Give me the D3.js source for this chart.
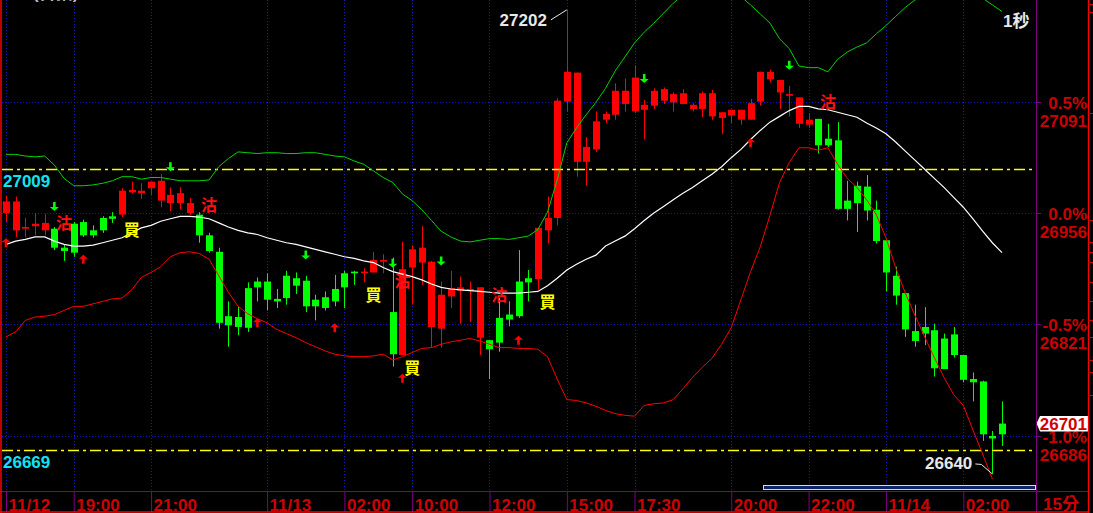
<!DOCTYPE html>
<html>
<head>
<meta charset="utf-8">
<script src="https://cdn.jsdelivr.net/npm/d3@7"></script>
<style>
body { margin: 0; background: #000; }
svg { display: block; }
text { font-family: "Liberation Sans", Arial, "Noto Sans CJK TC", sans-serif; font-weight: bold; }
</style>
</head>
<body>
<svg id="chart" width="1093" height="513"></svg>
<script>
// 15 minute bars, 104 of them
var opens = [26956,26935,26937,26940,26935,26937,26914,26943,26945,26935,26950,26952,26954,26981,26980,26986,26971,26968,26968,26956,
  26954,26929,26909,26831,26830,26865,26873,26873,26852,26880,26877,26874,26851,26854,26864,26883,26885,26884,26884,26897,
  26836,26784,26890,26896,26818,26816,26855,26862,26862,26805,26802,26829,26833,26873,26877,26876,26935,26950,27091,27018,
  27018,27033,27069,27075,27088,27079,27081,27086,27092,27090,27088,27082,27082,27073,27071,27074,27069,27069,27091,27118,
  27102,27098,27064,27063,27070,27046,27044,26971,26989,26988,26960,26923,26880,26859,26813,26818,26814,26804,26809,26784,
  26755,26752,26686,26701];
var highs = [26977,26976,26950,26956,26955,26939,26917,26945,26948,26941,26952,26957,26986,26994,26992,26994,27003,26987,26987,26974,
  26957,26932,26914,26849,26843,26872,26878,26883,26864,26886,26884,26880,26857,26861,26881,26886,26886,26889,26909,26906,
  26902,26921,26917,26940,26898,26873,26886,26879,26873,26866,26802,26853,26849,26911,26887,26938,26976,27095,27202,27126,
  27048,27079,27079,27113,27119,27135,27093,27107,27108,27102,27106,27089,27103,27105,27078,27081,27081,27094,27127,27130,
  27117,27110,27096,27077,27070,27064,27066,26995,26994,27002,26971,26923,26891,26859,26845,26842,26822,26810,26818,26784,
  26763,26753,26692,26728];
var lows = [26945,26927,26927,26929,26929,26911,26898,26903,26927,26926,26932,26944,26951,26980,26973,26978,26963,26958,26960,26954,
  26920,26908,26816,26794,26808,26812,26849,26838,26841,26845,26858,26836,26826,26838,26843,26841,26869,26872,26884,26883,
  26770,26784,26845,26869,26793,26793,26841,26822,26824,26784,26755,26788,26819,26829,26849,26863,26919,26941,27079,27000,
  26989,27030,27065,27069,27079,27077,27045,27082,27088,27079,27088,27079,27072,27069,27052,27065,27063,27069,27086,27114,
  27082,27073,27059,27059,27028,27036,26960,26947,26933,26947,26919,26861,26845,26806,26794,26796,26758,26767,26781,26751,
  26728,26680,26640,26674];
var closes = [26970,26970,26939,26943,26944,26914,26910,26908,26929,26929,26935,26949,26983,26984,26983,26994,26995,26978,26980,26968,
  26929,26910,26823,26820,26818,26817,26866,26851,26849,26853,26868,26843,26843,26841,26849,26866,26883,26885,26899,26899,
  26785,26888,26912,26914,26897,26857,26865,26866,26864,26866,26791,26799,26827,26831,26872,26938,26950,27092,27127,27126,
  27036,27067,27076,27104,27104,27120,27087,27104,27106,27100,27101,27087,27101,27101,27078,27081,27081,27089,27127,27127,
  27117,27100,27096,27069,27038,27038,26961,26961,26968,26959,26922,26884,26856,26815,26801,26810,26768,26767,26784,26754,
  26751,26688,26683,26688];

// bollinger bands
var bbUpper = [27027,27027,27025,27024,27025,27014,26998,26989,26989,26990,26992,26995,27000,27000,26997,26999,26999,26997,26995,26995,
  26995,26996,27012,27022,27030,27029,27028,27029,27029,27028,27028,27029,27029,27027,27025,27024,27019,27015,27007,26999,
  26993,26979,26971,26960,26947,26934,26927,26922,26921,26923,26925,26925,26924,26926,26928,26936,26957,26996,27041,27059,
  27075,27090,27107,27128,27145,27162,27175,27186,27198,27210,27220,27227,27233,27236,27233,27227,27218,27208,27197,27186,
  27167,27155,27134,27132,27132,27127,27142,27151,27157,27162,27173,27183,27194,27205,27214,27219,27222,27224,27224,27222,
  27220,27216,27208,27200];
var bbMid = [26918,26922,26924,26927,26927,26922,26918,26916,26916,26917,26920,26923,26926,26932,26938,26941,26946,26949,26952,26952,
  26951,26949,26944,26939,26935,26932,26930,26926,26923,26920,26918,26915,26912,26909,26906,26903,26901,26898,26896,26890,
  26885,26882,26879,26875,26870,26866,26864,26863,26862,26861,26860,26859,26859,26859,26860,26861,26868,26877,26887,26894,
  26900,26905,26916,26922,26928,26937,26947,26956,26964,26972,26980,26987,26995,27003,27012,27023,27033,27045,27056,27066,
  27073,27080,27085,27085,27082,27081,27078,27075,27072,27065,27059,27052,27042,27031,27020,27009,26998,26987,26975,26963,
  26949,26934,26920,26908];
var bbLower = [26806,26812,26826,26830,26831,26833,26838,26843,26843,26846,26849,26852,26853,26863,26878,26884,26891,26903,26908,26909,
  26907,26900,26880,26860,26843,26834,26828,26823,26815,26810,26805,26799,26794,26789,26785,26783,26782,26782,26783,26785,
  26778,26782,26787,26792,26793,26797,26800,26802,26804,26801,26797,26793,26793,26792,26792,26791,26782,26755,26730,26729,
  26726,26722,26717,26713,26711,26710,26723,26725,26726,26730,26743,26757,26769,26780,26797,26817,26851,26885,26915,26953,
  26993,27017,27035,27035,27032,27035,27015,26998,26987,26972,26954,26926,26890,26859,26832,26806,26781,26757,26736,26723,
  26693,26664,26634,null];

var timeIdx = [0, 7, 15, 27, 35, 42, 50, 58, 65, 75, 83, 91, 99];
var timeLabels = ["11/12","19:00","21:00","11/13","02:00","10:00","12:00","15:00","17:30","20:00","22:00","11/14","02:00"];

var basePrice = 26956;
var pctLevels = [0.5, 0, -0.5, -1.0];
var refLines = [27009, 26669];
var lastPrice = 26701;
var highIdx = 58, highPrice = 27202;
var lowIdx = 102, lowPrice = 26640;

// signal marks
var buyArrowIdx = [0, 8, 26, 34, 41, 53, 77];
var buyArrowPrice = [26920, 26900, 26823, 26817, 26756, 26802, 27041];
var sellArrowIdx = [5, 17, 31, 40, 45, 66, 81];
var sellArrowPrice = [26964, 27012, 26905, 26895, 26898, 27119, 27135];
var shortIdx = [6, 21, 41, 51, 85];
var shortPrice = [26944, 26966, 26874, 26857, 27090];
var longIdx = [13, 38, 42, 56];
var longPrice = [26936, 26857, 26768, 26848];

var edgeTicks = [27209, 27200, 27077, 26948, 26921, 26909, 26897, 26873, 26849, 26826, 26806, 26778, 26764, 26736];

var plotL = 2, plotR = 1036, plotB = 491, axisR = 1088;
var svg = d3.select("#chart");

svg.append("rect").attr("width", 1093).attr("height", 513).attr("fill", "#000");

var x = d3.scaleLinear().domain([0, highs.length - 1]).range([6, 1002]);
var y = d3.scaleLinear().domain([basePrice, basePrice * 1.005]).range([213, 101.7]);

svg.append("defs").append("clipPath").attr("id", "plotClip")
  .append("rect").attr("x", plotL).attr("y", 0).attr("width", plotR - plotL).attr("height", plotB);

// dotted grid
var grid = svg.append("g");
grid.selectAll(".hg").data(pctLevels).enter().append("line")
  .attr("x1", plotL).attr("x2", plotR)
  .attr("y1", function(d){ return Math.round(y(basePrice * (1 + d / 100))) + 0.5; })
  .attr("y2", function(d){ return Math.round(y(basePrice * (1 + d / 100))) + 0.5; })
  .attr("stroke", "#1414c8").attr("stroke-dasharray", "1,2");
grid.selectAll(".vg").data(timeIdx).enter().append("line")
  .attr("x1", function(d){ return Math.round(x(d)) + 0.5; })
  .attr("x2", function(d){ return Math.round(x(d)) + 0.5; })
  .attr("y1", 0).attr("y2", plotB)
  .attr("stroke", "#1414c8").attr("stroke-dasharray", "1,2");

// candles
var idx = d3.range(highs.length);
var candles = svg.append("g").attr("clip-path", "url(#plotClip)");
var bar = candles.selectAll("g").data(idx).enter().append("g");
bar.append("rect")
  .attr("x", function(i){ return Math.round(x(i)); })
  .attr("width", 1)
  .attr("y", function(i){ return y(highs[i]); })
  .attr("height", function(i){ return Math.max(1, y(lows[i]) - y(highs[i])); })
  .attr("fill", function(i){ return closes[i] >= opens[i] ? "#ff0000" : "#00ff00"; });
bar.append("rect")
  .attr("x", function(i){ return Math.round(x(i)) - 3; })
  .attr("width", 7)
  .attr("y", function(i){ return y(Math.max(opens[i], closes[i])); })
  .attr("height", function(i){ return Math.max(1.5, Math.abs(y(opens[i]) - y(closes[i]))); })
  .attr("fill", function(i){ return closes[i] >= opens[i] ? "#ff0000" : "#00ff00"; });

// reference lines
svg.append("g").selectAll("line").data(refLines).enter().append("line")
  .attr("x1", plotL).attr("x2", plotR)
  .attr("y1", function(d){ return Math.round(y(d)) + 0.5; })
  .attr("y2", function(d){ return Math.round(y(d)) + 0.5; })
  .attr("stroke", "#ffff00").attr("stroke-width", 1.3).attr("stroke-dasharray", "11,4,3,4");

// bands
var line = d3.line()
  .defined(function(d){ return d != null; })
  .x(function(d, i){ return x(i); })
  .y(function(d){ return y(d); });
var bands = svg.append("g").attr("clip-path", "url(#plotClip)").attr("fill", "none");
bands.append("path").attr("d", line(bbUpper)).attr("stroke", "#00d400").attr("stroke-width", 1);
bands.append("path").attr("d", line(bbMid)).attr("stroke", "#ffffff").attr("stroke-width", 1.2);
bands.append("path").attr("d", line(bbLower)).attr("stroke", "#ff0000").attr("stroke-width", 1);

// arrows
var upArrow = "M-4.5,-0.5L0,-4.5L4.5,-0.5L1.3,-0.5L1.3,4.5L-1.3,4.5L-1.3,-0.5Z";
svg.append("g").selectAll("path").data(buyArrowIdx).enter().append("path")
  .attr("d", upArrow)
  .attr("transform", function(d, i){ return "translate(" + x(d) + "," + y(buyArrowPrice[i]) + ")"; })
  .attr("fill", "#ff0000");
svg.append("g").selectAll("path").data(sellArrowIdx).enter().append("path")
  .attr("d", upArrow)
  .attr("transform", function(d, i){ return "translate(" + x(d) + "," + y(sellArrowPrice[i]) + ") scale(1,-1)"; })
  .attr("fill", "#00ff00");

// 沽 / 買 marks
svg.append("g").selectAll("text").data(shortIdx).enter().append("text")
  .attr("x", function(d){ return x(d); })
  .attr("y", function(d, i){ return y(shortPrice[i]) + 6; })
  .attr("text-anchor", "middle").attr("font-size", 16)
  .style("font-family", "'Noto Sans CJK TC', sans-serif")
  .attr("fill", "#ff1010").text("沽");
svg.append("g").selectAll("text").data(longIdx).enter().append("text")
  .attr("x", function(d){ return x(d); })
  .attr("y", function(d, i){ return y(longPrice[i]) + 6; })
  .attr("text-anchor", "middle").attr("font-size", 16)
  .style("font-family", "'Noto Sans CJK TC', sans-serif")
  .attr("fill", "#ffff00").text("買");

// high / low callouts
var hx = x(highIdx), hy = y(highPrice);
svg.append("polyline")
  .attr("points", [[hx - 16, hy + 10], [hx, hy]].join(" "))
  .attr("fill", "none").attr("stroke", "#e8e8e8");
svg.append("text").attr("x", hx - 20).attr("y", hy + 16.5).attr("text-anchor", "end")
  .attr("font-size", 17).attr("fill", "#e8e8e8").text(highPrice);
var lx = x(lowIdx), ly = y(lowPrice);
svg.append("polyline")
  .attr("points", [[lx - 17, ly - 10], [lx - 11, ly - 9.5], [lx, ly]].join(" "))
  .attr("fill", "none").attr("stroke", "#e8e8e8");
svg.append("text").attr("x", lx - 20).attr("y", ly - 4.5).attr("text-anchor", "end")
  .attr("font-size", 17).attr("fill", "#e8e8e8").text(lowPrice);

svg.selectAll(".ref").data(refLines).enter().append("text")
  .attr("x", 3).attr("y", function(d){ return y(d) + 17.5; })
  .attr("font-size", 17).attr("fill", "#10e4f4").text(function(d){ return d; });

svg.append("text").attr("x", 1003).attr("y", 27).attr("font-size", 17).attr("fill", "#e8e8e8").text("1秒");
svg.append("text").attr("x", 33).attr("y", -1).attr("font-size", 17).attr("fill", "#bbbbbb").text("(台指)");

// scroll bar
svg.append("rect").attr("x", 763.5).attr("y", 485.5).attr("width", 272).attr("height", 4)
  .attr("fill", "#0c2468").attr("stroke", "#d8d8e8");

// bottom time axis
svg.append("line").attr("x1", 0).attr("x2", axisR).attr("y1", plotB + 0.5).attr("y2", plotB + 0.5).attr("stroke", "#800080");
var xAxis = d3.axisBottom(x).tickValues(timeIdx)
  .tickFormat(function(d, i){ return timeLabels[i]; })
  .tickSize(21).tickSizeOuter(0);
var gx = svg.append("g").attr("transform", "translate(0," + plotB + ")").call(xAxis)
  .attr("font-family", "'Liberation Sans', Arial, sans-serif").attr("font-size", 17);
gx.select(".domain").remove();
gx.selectAll(".tick line").attr("stroke", "#800080");
gx.selectAll(".tick text").attr("fill", "#d00000").attr("text-anchor", "start")
  .attr("x", 2).attr("y", 19.5).attr("dy", null);
svg.append("text").attr("x", 1043).attr("y", 510).attr("font-size", 17).attr("fill", "#d00000").text("15分");

// right price axis
var gy = svg.append("g");
pctLevels.forEach(function(p){
  var py = Math.round(y(basePrice * (1 + p / 100))) + 0.5;
  gy.append("line").attr("x1", plotR).attr("x2", plotR + 5).attr("y1", py).attr("y2", py).attr("stroke", "#800080");
  gy.append("text").attr("x", 1087).attr("y", py + 6.5).attr("text-anchor", "end")
    .attr("font-size", 17).attr("fill", "#cc0000").text(p.toFixed(1) + "%");
  gy.append("text").attr("x", 1087).attr("y", py + 24).attr("text-anchor", "end")
    .attr("font-size", 17).attr("fill", "#cc0000").text(Math.round(basePrice * (1 + p / 100)));
});

// last price tag
var ty = y(lastPrice);
svg.append("path")
  .attr("d", "M" + (plotR + 0.5) + "," + ty + "L" + (plotR + 4) + "," + (ty - 7.5) + "L" + axisR + "," + (ty - 7.5) +
    "L" + axisR + "," + (ty + 8) + "L" + (plotR + 4) + "," + (ty + 8) + "Z")
  .attr("fill", "#ffffff");
svg.append("text").attr("x", 1087).attr("y", ty + 6.5).attr("text-anchor", "end")
  .attr("font-size", 17).attr("fill", "#d00000").text(lastPrice);

// frame lines
svg.append("line").attr("x1", plotR + 0.5).attr("x2", plotR + 0.5).attr("y1", 0).attr("y2", 513).attr("stroke", "#800080");
svg.append("line").attr("x1", axisR + 0.5).attr("x2", axisR + 0.5).attr("y1", 0).attr("y2", 513).attr("stroke", "#ff0000").attr("stroke-width", 1.3);
svg.append("line").attr("x1", 1).attr("x2", 1).attr("y1", 0).attr("y2", 513).attr("stroke", "#ff0000").attr("stroke-width", 1.5);
svg.append("line").attr("x1", 0).attr("x2", axisR).attr("y1", 512).attr("y2", 512).attr("stroke", "#ff0000").attr("stroke-width", 1.5);
svg.append("g").selectAll("line").data(edgeTicks).enter().append("line")
  .attr("x1", axisR).attr("x2", 1093)
  .attr("y1", function(d){ return Math.round(y(d)) + 0.5; })
  .attr("y2", function(d){ return Math.round(y(d)) + 0.5; })
  .attr("stroke", "#cc0000");
</script>
</body>
</html>
